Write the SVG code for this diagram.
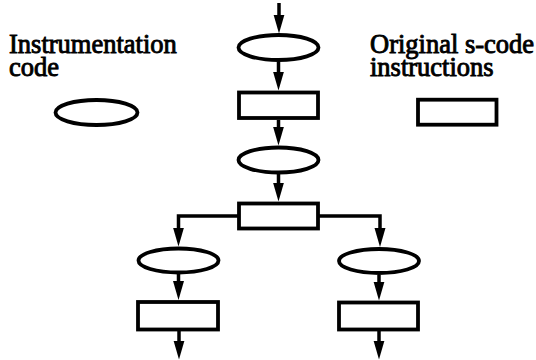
<svg xmlns="http://www.w3.org/2000/svg" width="536" height="360" viewBox="0 0 536 360">
<style>
.shape{fill:#fff;stroke:#000;stroke-width:3.8}
.conn{fill:none;stroke:#000;stroke-width:3.5;marker-end:url(#ah)}
.lbl{font-family:'Liberation Serif','Times New Roman',serif;font-size:26.5px;fill:#000;stroke:#000;stroke-width:0.9}
</style>
<defs>
<marker id="ah" viewBox="0 0 19 12" markerWidth="19" markerHeight="12" refX="9" refY="6" markerUnits="userSpaceOnUse" orient="auto">
<path d="M0,0.5 L19,6 L0,11.5 z" fill="#000"/>
</marker>
</defs>
<rect width="536" height="360" fill="#fff"/>
<g id="legend-instr">
<text class="lbl" x="9" y="53">Instrumentation<tspan x="9" y="76">code</tspan></text>
<ellipse class="shape" cx="96.5" cy="112.5" rx="41" ry="12.5"/>
</g>
<g id="legend-orig">
<text class="lbl" x="370" y="53">Original s-code<tspan x="370" y="76">instructions</tspan></text>
<rect class="shape" x="418" y="99.7" width="78.5" height="25"/>
</g>
<g id="connectors">
<path class="conn" d="M279,3 V23.5"/>
<path class="conn" d="M278.5,61.5 V80.5"/>
<path class="conn" d="M278.5,120 V135.5"/>
<path class="conn" d="M278.5,174 V191.5"/>
<path class="conn" d="M239,216 H178.5 V236.5"/>
<path class="conn" d="M318,216 H380 V237"/>
<path class="conn" d="M178.5,274 V290"/>
<path class="conn" d="M379,275 V290.5"/>
<path class="conn" d="M179,331 V349.5"/>
<path class="conn" d="M379,331 V349.5"/>
</g>
<g id="e1"><ellipse class="shape" cx="278.5" cy="47.5" rx="40" ry="12.5"/></g>
<g id="r1"><rect class="shape" x="239" y="92.5" width="79" height="25.5"/></g>
<g id="e2"><ellipse class="shape" cx="278.5" cy="160" rx="40" ry="12.5"/></g>
<g id="r2"><rect class="shape" x="239" y="203.5" width="79" height="25"/></g>
<g id="e3"><ellipse class="shape" cx="178.5" cy="260.5" rx="40" ry="12"/></g>
<g id="e4"><ellipse class="shape" cx="379" cy="261" rx="40" ry="12"/></g>
<g id="r3"><rect class="shape" x="138" y="302" width="80" height="27.5"/></g>
<g id="r4"><rect class="shape" x="339" y="302.5" width="79" height="27"/></g>
</svg>
